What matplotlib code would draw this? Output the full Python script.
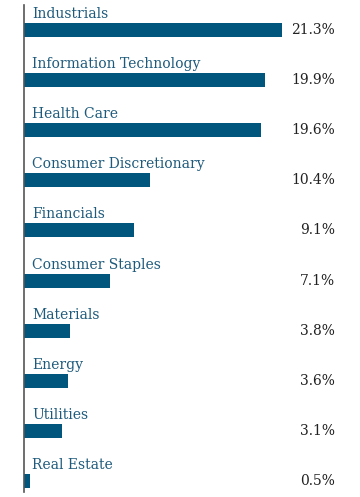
import matplotlib.pyplot as plt

sectors = ['Industrials', 'Information Technology', 'Health Care',
           'Consumer Discretionary', 'Financials', 'Consumer Staples',
           'Materials', 'Energy', 'Utilities', 'Real Estate']
weights = [21.3, 19.9, 19.6, 10.4, 9.1, 7.1, 3.8, 3.6, 3.1, 0.5]

bar_color = '#00567d'
label_color = '#1d5a7c'

fig = plt.figure(figsize=(3.6, 4.97), dpi=100)
ax = fig.add_axes([24 / 360, 5 / 497, 1 - 24 / 360, 487 / 497])

ypos = list(range(len(sectors)))
ax.barh(ypos, weights, height=0.28, color=bar_color)

for y, name, w in zip(ypos, sectors, weights):
    ax.text(0.65, y - 0.24, name, ha='left', va='baseline',
            fontsize=10, family='DejaVu Serif', color=label_color)
    ax.text(25.7, y, '%.1f%%' % w, ha='right', va='center',
            fontsize=10, family='DejaVu Serif', color='#222222')

ax.set_xlim(0, 336 / 12.11)
ax.set_ylim(9.22, -0.5)
ax.set_xticks([])
ax.set_yticks([])
for side in ['top', 'right', 'bottom']:
    ax.spines[side].set_visible(False)
ax.spines['left'].set_color('#555555')
ax.spines['left'].set_linewidth(1.2)

fig.savefig('out.png', dpi=100)
